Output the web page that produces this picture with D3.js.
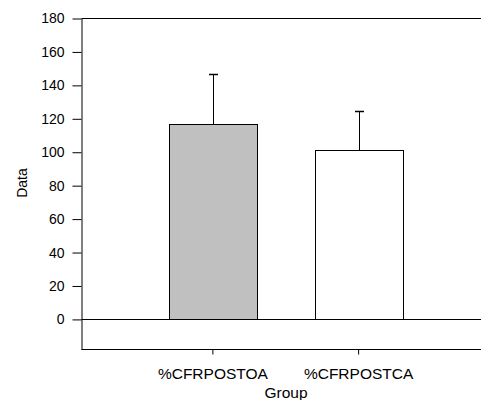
<!DOCTYPE html>
<html>
<head>
<meta charset="utf-8">
<script src="https://cdn.jsdelivr.net/npm/d3@7"></script>
<style>
  html, body { margin: 0; padding: 0; background: #fff; }
  svg { display: block; }
  text { font-family: "Liberation Sans", Arial, Helvetica, sans-serif; fill: #000; }
</style>
</head>
<body>
<svg id="chart" width="481" height="400"></svg>
<script>
// Group means and upper error (one side only)
const groups = ["%CFRPOSTOA", "%CFRPOSTCA"];
const means = [117, 101.4];
const errors = [30, 23.3];
const fills = ["#c0c0c0", "#ffffff"];
const yTicks = [0, 20, 40, 60, 80, 100, 120, 140, 160, 180];

const svg = d3.select("#chart");
const plotLeft = 81.5, plotRight = 490, plotTop = 18.5, plotBottom = 349.5;

const x = d3.scaleBand()
  .domain(groups)
  .range([plotLeft, plotRight])
  .paddingInner(0.397)
  .paddingOuter(0.6);

const y = d3.scaleLinear()
  .domain([-18, 180])
  .range([plotBottom, plotTop]);

// frame top line
svg.append("line")
  .attr("x1", plotLeft).attr("x2", 481)
  .attr("y1", plotTop).attr("y2", plotTop)
  .attr("stroke", "#000").attr("stroke-width", 1);

// zero reference line
svg.append("line")
  .attr("x1", plotLeft).attr("x2", 481)
  .attr("y1", Math.round(y(0)) + 0.5).attr("y2", Math.round(y(0)) + 0.5)
  .attr("stroke", "#000").attr("stroke-width", 1);

// bars
svg.selectAll("rect.bar")
  .data(groups)
  .join("rect")
  .attr("class", "bar")
  .attr("x", d => Math.round(x(d)) + 0.5)
  .attr("width", Math.round(x.bandwidth()))
  .attr("y", (d, i) => Math.round(y(means[i])) + 0.5)
  .attr("height", (d, i) => Math.round(y(0)) - Math.round(y(means[i])))
  .attr("fill", (d, i) => fills[i])
  .attr("stroke", "#000")
  .attr("stroke-width", 1);

// error bars (upper)
const cx = d => Math.round(x(d) + x.bandwidth() / 2) + 0.5;
svg.selectAll("line.err")
  .data(groups)
  .join("line")
  .attr("class", "err")
  .attr("x1", cx).attr("x2", cx)
  .attr("y1", (d, i) => Math.round(y(means[i])) + 0.5)
  .attr("y2", (d, i) => Math.round(y(means[i] + errors[i])) + 0.5)
  .attr("stroke", "#000").attr("stroke-width", 1);

svg.selectAll("line.cap")
  .data(groups)
  .join("line")
  .attr("class", "cap")
  .attr("x1", d => cx(d) - 4.5).attr("x2", d => cx(d) + 4.5)
  .attr("y1", (d, i) => Math.round(y(means[i] + errors[i])) + 0.5)
  .attr("y2", (d, i) => Math.round(y(means[i] + errors[i])) + 0.5)
  .attr("stroke", "#000").attr("stroke-width", 1.5);

// y axis
const yAxis = svg.append("g")
  .attr("transform", `translate(${plotLeft},0)`)
  .call(d3.axisLeft(y).tickValues(yTicks).tickSize(9).tickPadding(8).tickSizeOuter(0));
yAxis.select(".domain").attr("stroke", "#000");
yAxis.selectAll(".tick line").attr("stroke", "#000");
yAxis.selectAll("text")
  .style("font-size", "14px")
  .attr("font-family", null);

// x axis
const xAxis = svg.append("g")
  .attr("transform", `translate(0,${plotBottom})`)
  .call(d3.axisBottom(x).tickSize(5).tickPadding(13).tickSizeOuter(0));
xAxis.select(".domain").attr("d", `M${plotLeft},0H481`).attr("stroke", "#000");
xAxis.selectAll(".tick line").attr("stroke", "#000");
xAxis.selectAll("text")
  .style("font-size", "15.5px")
  .attr("font-family", null);

// axis titles
svg.append("text")
  .attr("transform", "translate(26.5,183) rotate(-90)")
  .attr("text-anchor", "middle")
  .style("font-size", "14px")
  .text("Data");

svg.append("text")
  .attr("x", 286)
  .attr("y", 398)
  .attr("text-anchor", "middle")
  .style("font-size", "15.5px")
  .text("Group");
</script>
</body>
</html>
